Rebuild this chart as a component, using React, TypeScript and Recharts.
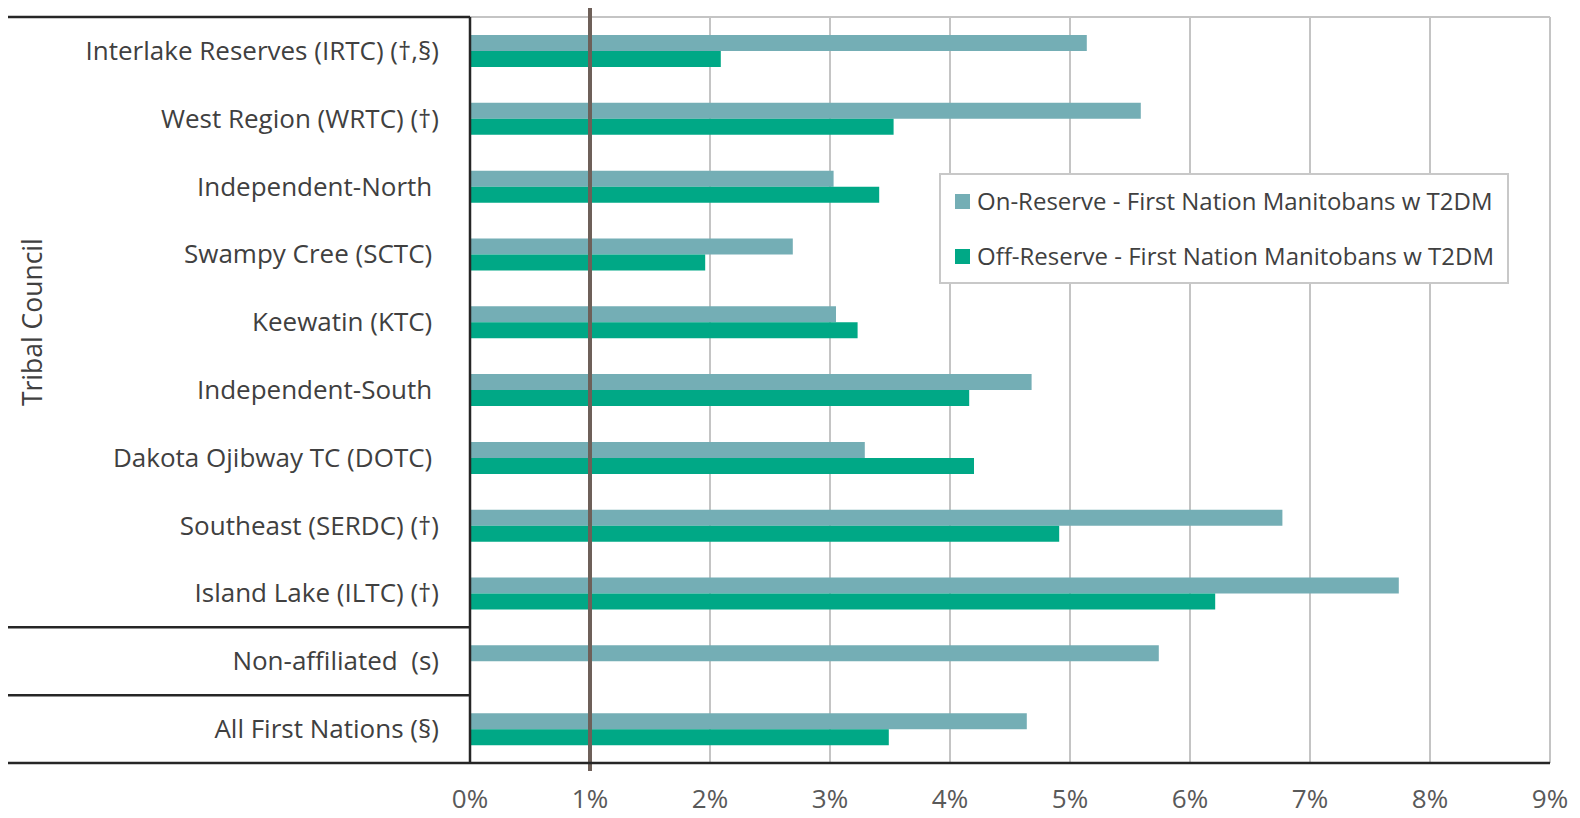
import React from 'react';
import { BarChart, Bar, XAxis, YAxis, CartesianGrid, ReferenceLine, Legend } from 'recharts';

// Tribal council categories (top to bottom); a trailing space is part of some labels
const councils = [
  'Interlake Reserves (IRTC) (\u2020,\u00a7)',
  'West Region (WRTC) (\u2020)',
  'Independent-North ',
  'Swampy Cree (SCTC) ',
  'Keewatin (KTC) ',
  'Independent-South ',
  'Dakota Ojibway TC (DOTC) ',
  'Southeast (SERDC) (\u2020)',
  'Island Lake (ILTC) (\u2020)',
  'Non-affiliated  (s)',
  'All First Nations (\u00a7)',
];

// Percent of First Nation Manitobans with T2DM
const onReserve = [5.14, 5.59, 3.03, 2.69, 3.05, 4.68, 3.29, 6.77, 7.74, 5.74, 4.64];
const offReserve: (number | null)[] = [2.09, 3.53, 3.41, 1.96, 3.23, 4.16, 4.2, 4.91, 6.21, null, 3.49];

const xTicks = [0, 1, 2, 3, 4, 5, 6, 7, 8, 9];
const referencePct = 1;

// Indices where a new block of categories starts
const groupStarts = [0, 9, 10];
const groupTitle = 'Tribal Council';
const groupTitleSpan = 9;

const seriesNames = {
  on: 'On-Reserve - First Nation Manitobans w T2DM',
  off: 'Off-Reserve - First Nation Manitobans w T2DM',
};

const COLORS = {
  on: '#74AEB5',
  off: '#00A886',
  grid: '#C4C4C4',
  axis: '#262626',
  ref: '#6E6059',
  text: '#404040',
  tick: '#595959',
};

const FONT = '"Open Sans", "Noto Sans", sans-serif';

const W = 1580;
const H = 818;
const X_AXIS_H = 55;
const MARGIN = { top: 17, right: 30, bottom: 0, left: 0 };
const Y_AXIS_W = 470;
const LABEL_BOX_LEFT = 5;

const data = councils.map((c, i) => ({ council: c, on: onReserve[i], off: offReserve[i] }));

const halfBand = (H - MARGIN.top - MARGIN.bottom - X_AXIS_H) / councils.length / 2;

function CouncilTick(props: any) {
  const { x, y, payload, index } = props;
  const half = payload && payload.offset ? payload.offset : halfBand;
  const axisX = Y_AXIS_W;
  return (
    <g>
      {groupStarts.includes(index) && (
        <line x1={LABEL_BOX_LEFT} x2={axisX} y1={y - half} y2={y - half} stroke={COLORS.axis} strokeWidth={2.5} />
      )}
      {index === councils.length - 1 && (
        <line x1={LABEL_BOX_LEFT} x2={axisX} y1={y + half} y2={y + half} stroke={COLORS.axis} strokeWidth={2.5} />
      )}
      <text
        x={x}
        y={y}
        dy={9}
        textAnchor="end"
        fill={COLORS.text}
        fontSize={26}
        fontFamily={FONT}
        style={{ whiteSpace: 'pre' }}
      >
        {payload.value}
      </text>
    </g>
  );
}

function PctTick(props: any) {
  const { x, y, payload } = props;
  return (
    <text x={x} y={y + 45} textAnchor="middle" fill={COLORS.tick} fontSize={26} fontFamily={FONT}>
      {`${payload.value}%`}
    </text>
  );
}

function GroupTitle(props: any) {
  const vb = props.viewBox || {};
  const cy = vb.y + ((vb.height || 0) * groupTitleSpan) / councils.length / 2;
  const cx = 32;
  return (
    <text
      x={cx}
      y={cy}
      transform={`rotate(-90, ${cx}, ${cy})`}
      textAnchor="middle"
      dominantBaseline="central"
      fill={COLORS.text}
      fontSize={26.5}
      fontFamily={FONT}
    >
      {groupTitle}
    </text>
  );
}

function RefLineShape(props: any) {
  const { x1, y1, x2, y2 } = props;
  return (
    <line
      x1={x1}
      x2={x2}
      y1={Math.min(y1, y2) - 13}
      y2={Math.max(y1, y2) + 8}
      stroke={COLORS.ref}
      strokeWidth={4}
    />
  );
}

function LegendBox() {
  const items = [
    { key: 'on', label: seriesNames.on, color: COLORS.on },
    { key: 'off', label: seriesNames.off, color: COLORS.off },
  ];
  return (
    <div
      style={{
        border: '2px solid #C8C8C8',
        background: '#FFFFFF',
        boxSizing: 'border-box',
        width: 570,
        height: 111,
        padding: '11px 0 0 14px',
        fontFamily: FONT,
      }}
    >
      {items.map((it) => (
        <div key={it.key} style={{ display: 'flex', alignItems: 'center', height: 30, marginBottom: 25 }}>
          <span
            style={{ display: 'inline-block', width: 15, height: 15, background: it.color, marginRight: 7, flex: 'none' }}
          />
          <span style={{ fontSize: 24, lineHeight: '30px', color: COLORS.text, whiteSpace: 'nowrap' }}>{it.label}</span>
        </div>
      ))}
    </div>
  );
}

export default function App() {
  return (
    <div style={{ margin: -8, width: W, height: H, background: '#FFFFFF' }}>
      <BarChart
        width={W}
        height={H}
        data={data}
        layout="vertical"
        margin={MARGIN}
        barSize={16}
        barGap={0}
        style={{ fontFamily: FONT }}
      >
        <CartesianGrid
          vertical
          horizontal
          horizontalPoints={[MARGIN.top]}
          stroke={COLORS.grid}
          strokeWidth={2}
        />
        <XAxis
          type="number"
          domain={[0, 9]}
          ticks={xTicks}
          interval={0}
          axisLine={{ stroke: COLORS.axis, strokeWidth: 2.5 }}
          tickLine={false}
          tickSize={0}
          tickMargin={0}
          tick={<PctTick />}
          height={X_AXIS_H}
        />
        <YAxis
          type="category"
          dataKey="council"
          width={Y_AXIS_W}
          axisLine={{ stroke: COLORS.axis, strokeWidth: 2.5 }}
          tickLine={false}
          tickSize={0}
          tickMargin={31}
          interval={0}
          tick={<CouncilTick />}
          label={<GroupTitle />}
        />
        <Bar dataKey="on" name={seriesNames.on} fill={COLORS.on} isAnimationActive={false} />
        <Bar dataKey="off" name={seriesNames.off} fill={COLORS.off} isAnimationActive={false} />
        <ReferenceLine x={referencePct} stroke={COLORS.ref} strokeWidth={4} shape={<RefLineShape />} />
        <Legend
          layout="vertical"
          align="center"
          verticalAlign="middle"
          content={<LegendBox />}
          wrapperStyle={{ position: 'absolute', left: 939, top: 173, width: 570, height: 111 }}
        />
      </BarChart>
    </div>
  );
}
